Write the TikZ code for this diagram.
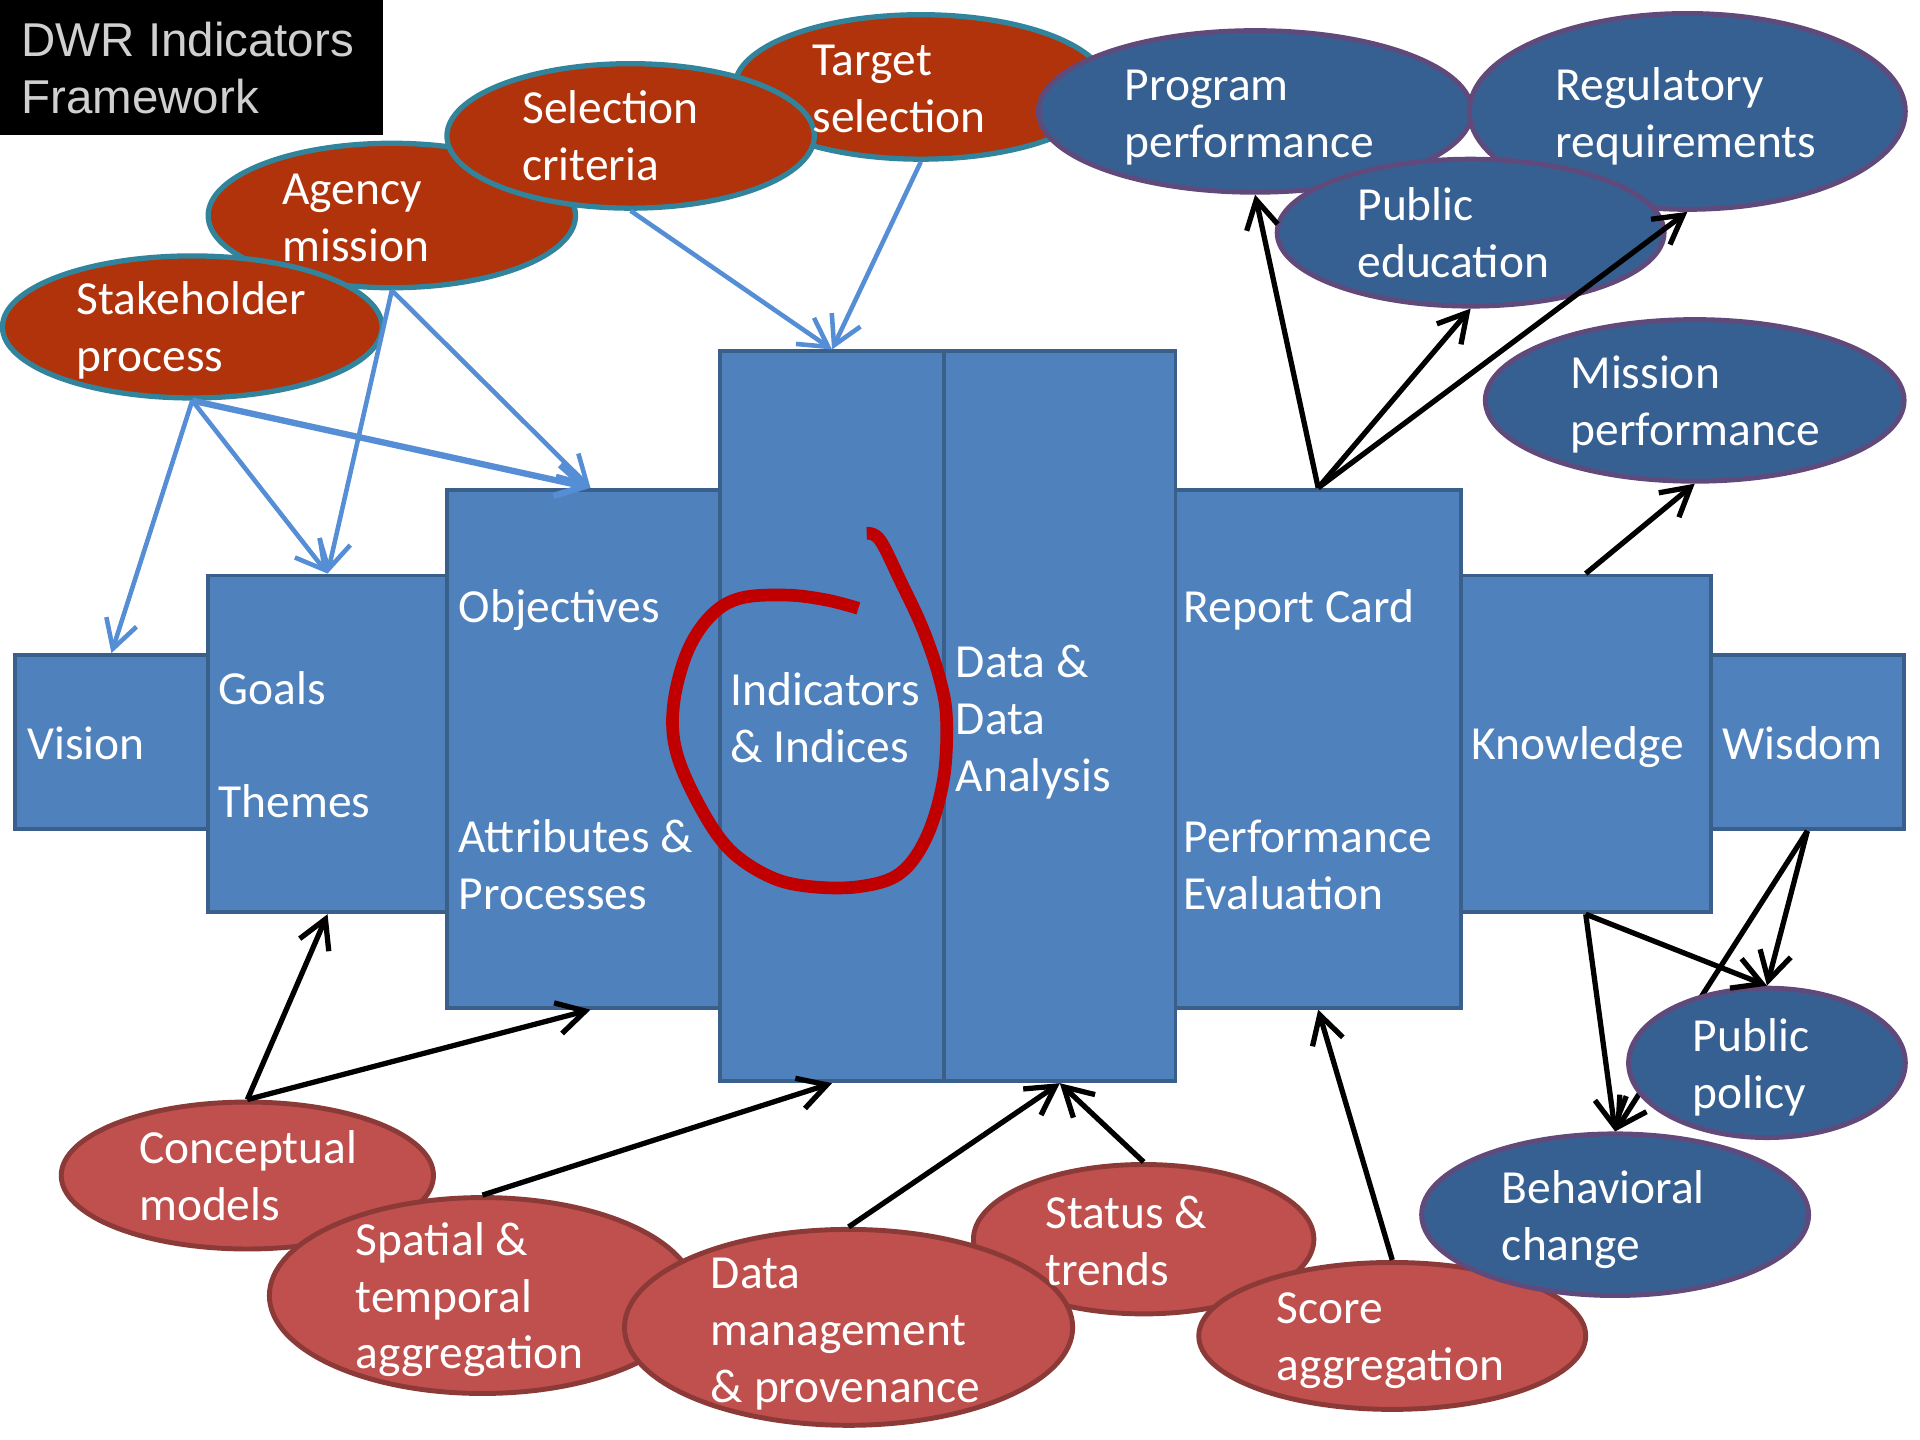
\documentclass[tikz,border=0pt]{standalone}
\usepackage{fontspec}
\setmainfont{Carlito}
\newfontfamily\titlefont{Liberation Sans}
\usetikzlibrary{shapes.geometric,arrows.meta,fit}
\definecolor{boxfill}{HTML}{4F81BD}
\definecolor{boxline}{HTML}{3A5F8B}
\definecolor{topfill}{HTML}{B0330B}
\definecolor{topline}{HTML}{31849B}
\definecolor{bluefill}{HTML}{376092}
\definecolor{blueline}{HTML}{604A7B}
\definecolor{botfill}{HTML}{C0504D}
\definecolor{botline}{HTML}{8C3A38}
\definecolor{barrowc}{HTML}{558ED5}
\definecolor{circc}{HTML}{C00000}
\definecolor{titlegray}{HTML}{D0D0D0}
\begin{document}
\begin{tikzpicture}[x=0.012245cm, y=-0.012245cm,
  bx/.style={draw=boxline, fill=boxfill, line width=1.1pt, inner sep=0pt},
  el/.style 2 args={ellipse, inner sep=0pt, minimum width={2*#1*0.012245cm}, minimum height={2*#2*0.012245cm}},
  topel/.style={draw=topline, fill=topfill, line width=1.5pt},
  blueel/.style={draw=blueline, fill=bluefill, line width=1.4pt},
  botel/.style={draw=botline, fill=botfill, line width=1.4pt},
  txt/.style={anchor=base west, align=left, inner sep=0pt, text=white, font=\fontsize{13.5}{16.2}\selectfont},
  ttl/.style={anchor=base west, align=left, inner sep=0pt, text=titlegray, font=\titlefont\fontsize{13.5}{16.2}\selectfont},
  barrow/.style={draw=barrowc, line width=1.3pt, -{Straight Barb[length=8pt,width=9pt]}},
  karrow/.style={draw=black, line width=1.5pt, -{Straight Barb[length=8pt,width=9pt]}},
]
\useasboundingbox (0,0) rectangle (1568,1176);
% title
\node[fill=black, inner sep=0pt, fit={(0,0)(313,110)}] (titlebox) {};
\node[ttl] (title) at (17,93) {DWR Indicators\\Framework};
% boxes
\node[bx, fit={(12,535)(170,677)}] (vision) {};
\node[bx, fit={(170,470)(365,745)}] (goals) {};
\node[bx, fit={(365,400)(588,823)}] (obj) {};
\node[bx, fit={(588,287)(771,883)}] (ind) {};
\node[bx, fit={(771,287)(960,883)}] (data) {};
\node[bx, fit={(960,400)(1193,823)}] (report) {};
\node[bx, fit={(1193,470)(1397,745)}] (know) {};
\node[bx, fit={(1397,535)(1555,677)}] (wisdom) {};
\node[txt] (vision-t) at (22,620) {Vision};
\node[txt] (goals-t) at (178,575) {Goals};
\node[txt] (themes-t) at (178,668) {Themes};
\node[txt] (obj-t) at (374,508) {Objectives};
\node[txt] (attr-t) at (374,742.5) {Attributes \&\\Processes};
\node[txt] (ind-t) at (596,622.5) {Indicators\\\& Indices};
\node[txt] (data-t) at (780,646) {Data \&\\Data\\Analysis};
\node[txt] (report-t) at (966,508) {Report Card};
\node[txt] (perf-t) at (966,742.5) {Performance\\Evaluation};
\node[txt] (know-t) at (1201,620) {Knowledge};
\node[txt] (wisdom-t) at (1406,620) {Wisdom};
% hand-drawn circle
\draw[circc, line width=3.6pt, line join=round] plot[smooth, tension=0.6] coordinates {(707.8,435.5) (718.6,441) (735,473.7) (754,514.5) (767.7,555.3) (773,588) (770.4,637) (756.8,683.3) (735,713.2) (702.3,724) (661.5,724) (628.8,716) (596,694) (571.7,658.8) (552.6,615) (549.9,577) (560.8,533.5) (579.8,503.6) (604.3,488.6) (642.5,486) (675,490) (701,496.8)};
% top ellipses
\node[topel, el={152}{59}] (target) at (752,71) {};
\node[topel, el={150}{59}] (agency) at (320,176) {};
\node[topel, el={150}{59}] (select) at (515,111) {};
\node[topel, el={155}{58}] (stake) at (157,267) {};
\node[txt] (target-t) at (663,108.5) {Target\\selection};
\node[txt] (agency-t) at (230,213.5) {Agency\\mission};
\node[txt] (select-t) at (426,147.5) {Selection\\criteria};
\node[txt] (stake-t) at (62,303.5) {Stakeholder\\process};
\node[blueel, el={177}{66}] (program) at (1025,91) {};
\node[blueel, el={178}{80}] (regul) at (1378,91) {};
\node[blueel, el={158}{60}] (pubedu) at (1201,190) {};
\node[blueel, el={171}{66}] (mission) at (1384,327) {};
\node[txt] (program-t) at (918,128.5) {Program\\performance};
\node[txt] (regul-t) at (1270,128.5) {Regulatory\\requirements};
\node[txt] (pubedu-t) at (1108,226.5) {Public\\education};
\node[txt] (mission-t) at (1282,363.5) {Mission\\performance};
% bottom ellipses
\node[botel, el={152}{60}] (concept) at (202,960) {};
\node[botel, el={174}{80}] (spatial) at (394,1058) {};
\node[botel, el={139}{61}] (status) at (934,1012) {};
\node[botel, el={183}{80}] (datam) at (693,1084) {};
\node[botel, el={158}{60}] (score) at (1137,1091) {};
\node[blueel, el={158}{66}] (behav) at (1319,992) {};
\node[txt] (concept-t) at (113,996.5) {Conceptual\\models};
\node[txt] (spatial-t) at (290,1118) {Spatial \&\\temporal\\aggregation};
\node[txt] (status-t) at (853,1049.5) {Status \&\\trends};
\node[txt] (datam-t) at (580,1145) {Data\\management\\\& provenance};
\node[txt] (score-t) at (1042,1127.5) {Score\\aggregation};
\node[txt] (behav-t) at (1226,1029.5) {Behavioral\\change};
\draw[karrow] (wisdom.south) -- (behav.north);
\node[blueel, el={113}{61}] (pubpol) at (1443,868) {};
\node[txt] (pubpol-t) at (1382,905.5) {Public\\policy};
% blue arrows
\draw[barrow] (stake.south) -- (vision.north);
\draw[barrow] (stake.south) -- (goals.north);
\draw[barrow, line width=1.8pt] (stake.south) -- ([xshift=0.07cm]obj.north);
\draw[barrow] (agency.south) -- (goals.north);
\draw[barrow] (agency.south) -- ([xshift=0.07cm]obj.north);
\draw[barrow] (select.south) -- (ind.north);
\draw[barrow] (target.south) -- (ind.north);
% black arrows
\draw[karrow] (report.north) -- (program.south);
\draw[karrow] (report.north) -- (pubedu.south);
\draw[karrow] (report.north) -- (regul.south);
\draw[karrow] (know.north) -- (mission.south);
\draw[karrow] (concept.north) -- (goals.south);
\draw[karrow] (concept.north) -- ([xshift=0.07cm]obj.south);
\draw[karrow] (spatial.north) -- (ind.south);
\draw[karrow] (datam.north) -- (data.south);
\draw[karrow] (status.north) -- (data.south);
\draw[karrow] (score.north) -- (report.south);
\draw[karrow] (know.south) -- (behav.north);
\draw[karrow] (know.south) -- (pubpol.north);
\draw[karrow] (wisdom.south) -- (pubpol.north);
\end{tikzpicture}
\end{document}
